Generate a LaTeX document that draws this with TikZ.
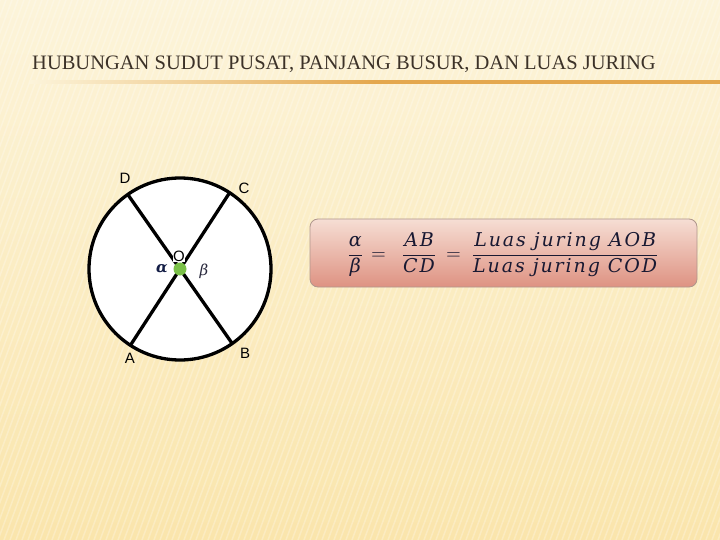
\documentclass[tikz,border=0pt]{standalone}
\usepackage{amsmath}
\usepackage{fontspec}
\usepackage{unicode-math}
\setmainfont{Liberation Serif}
\setmathfont{Latin Modern Math}
\newfontfamily\arialf{Liberation Sans}
\newfontfamily\mathitf{DejaVu Serif}
\newfontfamily\mathitsp[LetterSpace=10]{DejaVu Serif}
\usetikzlibrary{calc}
\definecolor{bgtop}{RGB}{252,244,218}
\definecolor{bgbot}{RGB}{250,229,172}
\definecolor{rule}{RGB}{228,168,78}
\definecolor{boxtop}{RGB}{246,222,212}
\definecolor{boxbot}{RGB}{222,146,130}
\definecolor{boxline}{RGB}{175,150,140}
\definecolor{dotgreen}{RGB}{122,192,72}
\definecolor{titlec}{RGB}{60,50,40}
\newcommand{\fit}[1]{\text{\mathitsp\itshape #1}}
\tikzset{
  ptlabel/.style={font=\arialf\fontsize{15}{17}\selectfont, inner sep=0pt},
  chord/.style={line width=3.3pt, black},
}
\begin{document}
\begin{tikzpicture}[x=1pt,y=-1pt]
\useasboundingbox (0,0) rectangle (720,540);
% background
\shade[top color=bgtop, bottom color=bgbot] (0,0) rectangle (720,540);
\foreach \i in {-200,-194,...,720} {
  \draw[white, opacity=0.25, line width=1.5pt] (\i,540) -- (\i+200,0);
}
% title
\node[anchor=base west, inner sep=0pt, text=titlec, font=\fontsize{20.5}{22}\selectfont] (title) at (32,70) {HUBUNGAN SUDUT PUSAT, PANJANG BUSUR, DAN LUAS JURING};
\shade[left color=bgtop, right color=rule, middle color=rule] (30,81) rectangle (720,84);
% circle
\coordinate (O) at (180,269);
\coordinate (D) at (127.8,194.5);
\coordinate (C) at (229.6,192.7);
\coordinate (A) at (130.4,345.3);
\coordinate (B) at (232.2,343.5);
\draw[line width=3.3pt, fill=white] (O) circle (91);
\draw[chord] (D) -- (B);
\draw[chord] (C) -- (A);
\node[ptlabel, fill=white, inner sep=0.3pt] (olab) at (179,256) {O};
\fill[dotgreen] (O) circle (6.5);
\node[ptlabel] (dlab) at (125,178) {D};
\node[ptlabel] (clab) at (244,188) {C};
\node[ptlabel] (alab) at (130,358) {A};
\node[ptlabel] (blab) at (245,353) {B};
\node[inner sep=0pt, font=\mathitf\bfseries\itshape\fontsize{15}{18}\selectfont, text={rgb,255:red,20;green,30;blue,70}] (alpha) at (162,269) {α};
\node[inner sep=0pt, font=\mathitf\itshape\fontsize{15}{18}\selectfont, text={rgb,255:red,40;green,40;blue,60}] (beta) at (204,271) {β};
% formula box
\shade[rounded corners=8pt, top color=boxtop, bottom color=boxbot, draw=boxline, line width=0.8pt] (310,219) rectangle (697,287);
\node[inner sep=0pt, text={rgb,255:red,25;green,25;blue,50}, font=\fontsize{19}{22}\selectfont] (formula) at (503,255)
  {$\displaystyle \frac{\fit{α}}{\fit{β}} \,=\;\; \frac{\fit{AB}}{\fit{CD}} \;=\; \frac{\fit{Luas juring AOB}}{\fit{Luas juring COD}}$};
\end{tikzpicture}
\end{document}
